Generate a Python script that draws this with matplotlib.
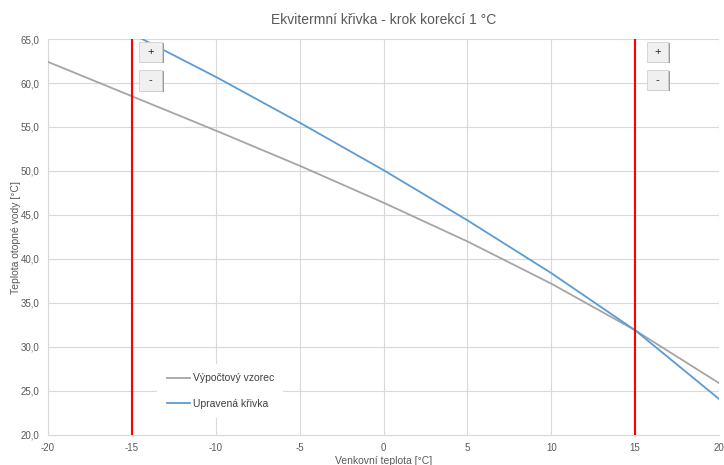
import matplotlib
matplotlib.use("Agg")
import matplotlib.pyplot as plt
from matplotlib.patches import Rectangle
from matplotlib.ticker import FuncFormatter

# Data
outdoor_temp = [-20, -15, -10, -5, 0, 5, 10, 15, 20]
formula_curve = [62.4, 58.5, 54.6, 50.6, 46.4, 42.0, 37.2, 31.9, 25.9]
adjusted_curve = [70.4, 65.6, 60.7, 55.5, 50.1, 44.4, 38.4, 31.9, 24.1]
limit_lines = [-15, 15]
series_labels = ["Výpočtový vzorec", "Upravená křivka"]
title = "Ekvitermní křivka - krok korekcí 1 °C"
xlabel = "Venkovní teplota [°C]"
ylabel = "Teplota otopné vody [°C]"

plt.rcParams['font.family'] = ['Liberation Sans', 'DejaVu Sans']
plt.rcParams['axes.unicode_minus'] = False

fig = plt.figure(figsize=(7.24, 4.65), dpi=100)
ax = fig.add_axes([48/724, 1-435/465, (719-48)/724, (435-39)/465])

txt = '#595959'
grid = '#d9d9d9'

ax.plot(outdoor_temp, formula_curve, color='#a5a5a5', lw=1.3, label=series_labels[0], zorder=3)
ax.plot(outdoor_temp, adjusted_curve, color='#5b9bd5', lw=1.3, label=series_labels[1], zorder=3)
for xv in limit_lines:
    ax.axvline(xv, color='#ff0000', lw=1.5, zorder=4)

ax.set_xlim(-20, 20)
ax.set_ylim(20, 65)
ax.set_xticks(range(-20, 21, 5))
ax.set_yticks(range(20, 66, 5))
ax.yaxis.set_major_formatter(FuncFormatter(lambda v, p: f"{v:.1f}".replace('.', ',')))
ax.grid(True, color=grid, lw=0.8, zorder=0)
ax.set_axisbelow(True)
for s in ['top', 'right']:
    ax.spines[s].set_visible(False)
for s in ['left', 'bottom']:
    ax.spines[s].set_color(grid)
    ax.spines[s].set_linewidth(0.8)
ax.tick_params(length=0, colors=txt, labelsize=7, pad=6)

ax.set_title(title, fontsize=10, color=txt, pad=11)
ax.set_xlabel(xlabel, fontsize=7.5, color=txt, labelpad=2)
ax.set_ylabel(ylabel, fontsize=7.5, color=txt)
ax.yaxis.set_label_coords(-0.040, 0.5)

leg = ax.legend(loc='lower left', bbox_to_anchor=(0.155, 0.03), frameon=True,
                fontsize=7.5, handlelength=2.2, labelspacing=1.45, borderpad=0.9,
                handletextpad=0.3)
leg.get_frame().set_facecolor('white')
leg.get_frame().set_edgecolor('none')
leg.get_frame().set_alpha(1)
for t in leg.get_texts():
    t.set_color('#404040')

# Buttons
def button(x0, y0, w, h, label):
    fx, fy = x0/724, 1-(y0+h)/465
    fw, fh = w/724, h/465
    fig.patches.append(Rectangle((fx+1.5/724, fy-1.5/465), fw, fh, transform=fig.transFigure,
                                 facecolor='#9a9a9a', edgecolor='none', zorder=10))
    fig.patches.append(Rectangle((fx, fy), fw, fh, transform=fig.transFigure,
                                 facecolor='#f0f0f0', edgecolor='#d0d0d0', lw=0.6, zorder=11))
    fig.text(fx+fw/2, fy+fh/2, label, ha='center', va='center', fontsize=8,
             color='#202020', zorder=12)

button(139, 42, 23, 20, '+')
button(139, 70, 23, 21, '-')
button(647, 42, 21, 20, '+')
button(647, 70, 21, 20, '-')

fig.savefig('out.png', dpi=100)
